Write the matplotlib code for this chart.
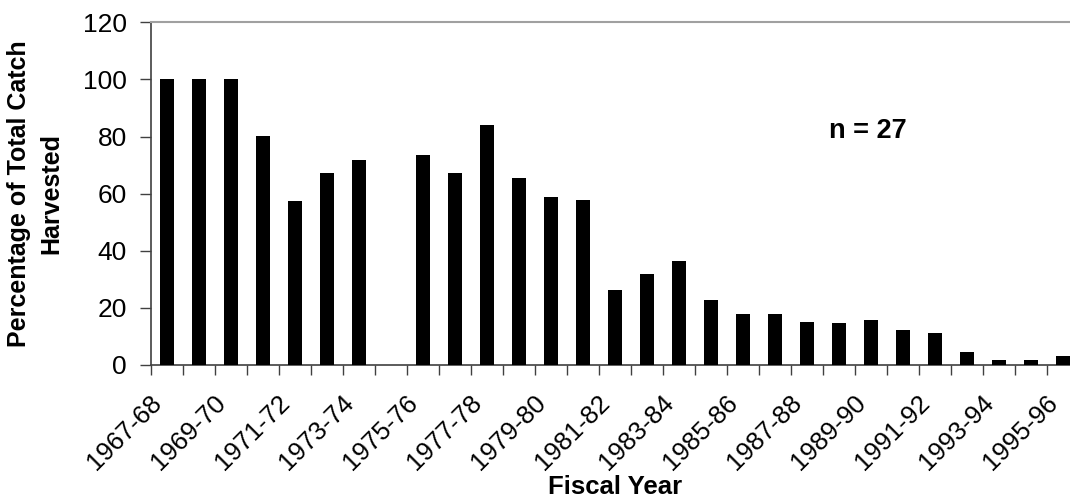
import numpy as np
import matplotlib.pyplot as plt
import matplotlib.transforms as mtransforms

plt.rcParams['font.family'] = ['Liberation Sans', 'DejaVu Sans']

# fiscal years 1967-68 .. 1995-96
years = ["{:d}-{:02d}".format(y, (y + 1) % 100) for y in range(1967, 1996)]
# percentage harvested (nan = no data for 1974-75)
pct = [100, 100, 100, 80.3, 57.3, 67.3, 71.9, np.nan, 73.4, 67.3,
       84.0, 65.6, 58.7, 57.9, 26.4, 32.0, 36.3, 22.9, 18.0, 18.0,
       15.2, 14.6, 15.8, 12.4, 11.1, 4.7, 1.8, 1.8, 3.3]
n_label = "n = 27"

W, H = 1070, 499
fig = plt.figure(figsize=(W / 100, H / 100), dpi=100)
ax = fig.add_axes([150.7 / W, (H - 365) / H, (1078.7 - 150.7) / W, (365 - 22.3) / H])

x = np.arange(len(years))
ax.bar(x, pct, width=0.44, color='black', zorder=3)

ax.set_xlim(-0.5, len(years) - 0.5)
ax.set_ylim(0, 120)
ax.set_yticks(np.arange(0, 121, 20))

# ticks on the category boundaries, labels every second year
ax.set_xticks(np.arange(-0.5, len(years), 1))
ax.set_xticklabels([])
offset = mtransforms.ScaledTranslation(-17 / 100, -26 / 100, fig.dpi_scale_trans)
trans = ax.get_xaxis_transform() + offset
for xi, lab in zip(x[::2], years[::2]):
    ax.text(xi, 0, lab, transform=trans, rotation=45, ha='right', va='top',
            rotation_mode='anchor', fontsize=18.5)

ax.tick_params(axis='x', length=7, width=1, color='#404040')
ax.tick_params(axis='y', length=8, width=1, color='#404040', pad=9, labelsize=19)

for s in ['left', 'bottom']:
    ax.spines[s].set_color('#404040')
    ax.spines[s].set_linewidth(1.2)
ax.spines['top'].set_color('#a0a0a0')
ax.spines['top'].set_linewidth(1.5)
ax.spines['right'].set_visible(False)

ax.set_ylabel("Percentage of Total Catch\nHarvested", fontsize=18, fontweight='bold',
              linespacing=1.45)
ax.yaxis.set_label_coords(-0.094, 0.5)
ax.set_xlabel("Fiscal Year", fontsize=18.5, fontweight='bold')
ax.xaxis.set_label_coords(0.5, -0.322)

ax.text(21.9, 81.8, n_label, fontsize=19.5, fontweight='bold', ha='center', va='center')

fig.savefig("out.png", dpi=100)
